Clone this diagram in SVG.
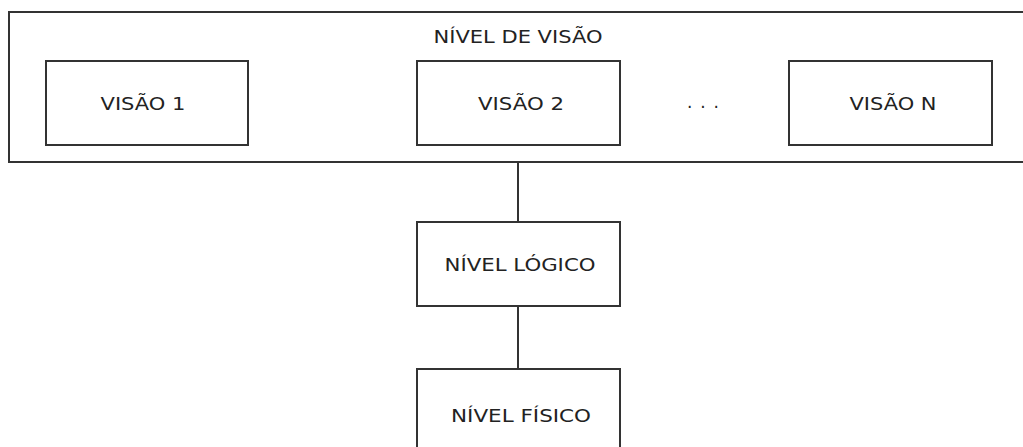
<svg xmlns="http://www.w3.org/2000/svg" width="1023" height="447" viewBox="0 0 1023 447">
  <style>
    .box { fill: #ffffff; stroke: #333333; stroke-width: 2; }
    .lbl { font-family: "DejaVu Sans", Verdana, sans-serif; font-size: 17px; fill: #222222; text-anchor: middle; }
    .wire { stroke: #333333; stroke-width: 2; fill: none; }
  </style>
  <rect width="1023" height="447" fill="#ffffff"/>

  <g id="nivel-visao">
    <rect class="box" x="9" y="12" width="1030" height="150"/>
    <text class="lbl" x="518" y="43" textLength="169" lengthAdjust="spacingAndGlyphs">NÍVEL DE VISÃO</text>
  </g>

  <g id="visao-1">
    <rect class="box" x="46" y="61" width="202" height="84"/>
    <text class="lbl" x="143" y="110" textLength="85" lengthAdjust="spacingAndGlyphs">VISÃO 1</text>
  </g>

  <g id="visao-2">
    <rect class="box" x="417" y="61" width="203" height="84"/>
    <text class="lbl" x="521" y="110" textLength="86" lengthAdjust="spacingAndGlyphs">VISÃO 2</text>
  </g>

  <g id="reticencias">
    <text class="lbl" x="703" y="108" textLength="32" lengthAdjust="spacing">. . .</text>
  </g>

  <g id="visao-n">
    <rect class="box" x="789" y="61" width="203" height="84"/>
    <text class="lbl" x="893" y="110" textLength="87" lengthAdjust="spacingAndGlyphs">VISÃO N</text>
  </g>

  <g id="conectores">
    <line class="wire" x1="518" y1="162" x2="518" y2="222"/>
    <line class="wire" x1="518" y1="306" x2="518" y2="369"/>
  </g>

  <g id="nivel-logico">
    <rect class="box" x="417" y="222" width="203" height="84"/>
    <text class="lbl" x="520" y="271" textLength="151" lengthAdjust="spacingAndGlyphs">NÍVEL LÓGICO</text>
  </g>

  <g id="nivel-fisico">
    <rect class="box" x="417" y="369" width="203" height="100"/>
    <text class="lbl" x="521" y="422" textLength="140" lengthAdjust="spacingAndGlyphs">NÍVEL FÍSICO</text>
  </g>
</svg>
